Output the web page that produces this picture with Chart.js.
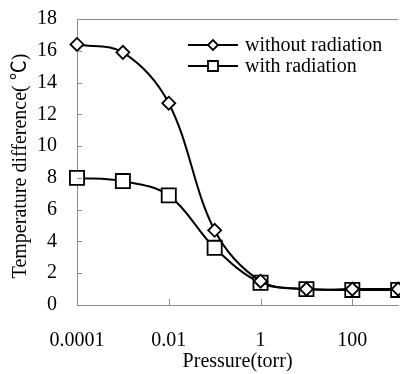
<!DOCTYPE html>
<html>
<head>
<meta charset="utf-8">
<script src="https://cdn.jsdelivr.net/npm/chart.js@4/dist/chart.umd.min.js"></script>
<style>
  html, body { margin: 0; padding: 0; background: #fff; }
  #wrap { width: 400px; height: 374px; overflow: hidden; }
</style>
</head>
<body>
<div id="wrap"><canvas id="chart" width="410" height="374"></canvas></div>
<script>
// pressure in torr, log axis
const pressure = [0.0001, 0.001, 0.01, 0.1, 1, 10, 100, 1000];
const withoutRadiation = [16.4, 15.9, 12.7, 4.7, 1.5, 1.0, 1.0, 1.0];
const withRadiation = [8.0, 7.8, 6.9, 3.6, 1.4, 1.0, 0.95, 0.95];
const xTickValues = [0.0001, 0.01, 1, 100];
const yTickValues = [0, 2, 4, 6, 8, 10, 12, 14, 16, 18];
const yTitle = 'Temperature difference( ℃)';

const serif = '"Liberation Serif", "Times New Roman", "Noto Sans CJK SC", serif';
const axisGray = '#8c8c8c';

function toPoints(ys) {
  return pressure.map((p, i) => ({ x: p, y: ys[i] }));
}

// inward tick marks, top frame line, y title and the legend inside the plot
const framePlugin = {
  id: 'frame',
  afterDraw(chart) {
    const ctx = chart.ctx;
    const a = chart.chartArea;
    const xs = chart.scales.x, ys = chart.scales.y;
    ctx.save();
    ctx.strokeStyle = axisGray;
    ctx.lineWidth = 1;
    ctx.beginPath();
    ctx.moveTo(a.left, a.top + 0.5);
    ctx.lineTo(a.right, a.top + 0.5);
    xTickValues.forEach(v => {
      const px = Math.round(xs.getPixelForValue(v)) + 0.5;
      ctx.moveTo(px, a.bottom);
      ctx.lineTo(px, a.bottom - 6);
    });
    yTickValues.forEach(v => {
      const py = Math.round(ys.getPixelForValue(v)) + 0.5;
      ctx.moveTo(a.left, py);
      ctx.lineTo(a.left + 5, py);
    });
    ctx.stroke();

    // rotated y title, sitting a little below the plot middle
    ctx.save();
    ctx.translate(21, 166);
    ctx.rotate(-Math.PI / 2);
    ctx.font = '20px ' + serif;
    ctx.textAlign = 'center';
    ctx.textBaseline = 'middle';
    ctx.fillStyle = '#000';
    ctx.fillText(yTitle, 0, 0);
    ctx.restore();

    // legend
    const rows = [
      { ds: chart.data.datasets[0], y: 45 },
      { ds: chart.data.datasets[1], y: 66 }
    ];
    ctx.font = '20px ' + serif;
    ctx.textBaseline = 'middle';
    rows.forEach(r => {
      ctx.strokeStyle = '#000';
      ctx.lineWidth = 2;
      ctx.beginPath();
      ctx.moveTo(188, r.y);
      ctx.lineTo(238, r.y);
      ctx.stroke();
      ctx.lineWidth = 1.8;
      ctx.beginPath();
      if (r.ds.pointStyle === 'rectRot') {
        ctx.moveTo(213 - 5, r.y);
        ctx.lineTo(213, r.y - 5);
        ctx.lineTo(213 + 5, r.y);
        ctx.lineTo(213, r.y + 5);
        ctx.closePath();
      } else {
        ctx.rect(208, r.y - 5, 10, 10);
      }
      ctx.fillStyle = '#fff';
      ctx.fill();
      ctx.stroke();
      ctx.fillStyle = '#000';
      ctx.fillText(r.ds.label, 245, r.y + 1);
    });
    ctx.restore();
  }
};

new Chart(document.getElementById('chart'), {
  type: 'line',
  data: {
    datasets: [
      {
        label: 'without radiation',
        data: toPoints(withoutRadiation),
        borderColor: '#000',
        borderWidth: 2,
        pointStyle: 'rectRot',
        pointRadius: 6.5,
        pointBorderWidth: 1.8,
        pointBackgroundColor: '#fff',
        pointBorderColor: '#000',
        tension: 0.35
      },
      {
        label: 'with radiation',
        data: toPoints(withRadiation),
        borderColor: '#000',
        borderWidth: 2,
        pointStyle: 'rect',
        pointRadius: 10,
        pointBorderWidth: 1.8,
        pointBackgroundColor: '#fff',
        pointBorderColor: '#000',
        tension: 0.35
      }
    ]
  },
  options: {
    responsive: false,
    animation: false,
    clip: false,
    layout: { padding: { top: 19, right: 6, left: 0, bottom: 0 } },
    plugins: {
      legend: { display: false },
      tooltip: { enabled: false }
    },
    scales: {
      x: {
        type: 'logarithmic',
        min: 0.0001,
        max: 1000,
        afterBuildTicks(scale) {
          scale.ticks = xTickValues.map(v => ({ value: v }));
        },
        afterFit(scale) {
          scale.height = 69;
          scale.paddingLeft = 0;
          scale.paddingRight = 0;
        },
        ticks: {
          color: '#000',
          font: { family: serif, size: 20 },
          padding: 24,
          maxRotation: 0,
          autoSkip: false,
          callback: v => String(v)
        },
        grid: { display: false, drawTicks: false },
        border: { color: axisGray, width: 1 },
        title: {
          display: true,
          text: 'Pressure(torr)',
          color: '#000',
          font: { family: serif, size: 20 },
          padding: { top: 0, bottom: 0 }
        }
      },
      y: {
        min: 0,
        max: 18,
        afterBuildTicks(scale) {
          scale.ticks = yTickValues.map(v => ({ value: v }));
        },
        afterFit(scale) {
          scale.width = 77;
          scale.paddingTop = 0;
          scale.paddingBottom = 0;
        },
        ticks: {
          color: '#000',
          font: { family: serif, size: 20 },
          padding: 20
        },
        grid: { display: false, drawTicks: false },
        border: { color: axisGray, width: 1 }
      }
    }
  },
  plugins: [framePlugin]
});
</script>
</body>
</html>
